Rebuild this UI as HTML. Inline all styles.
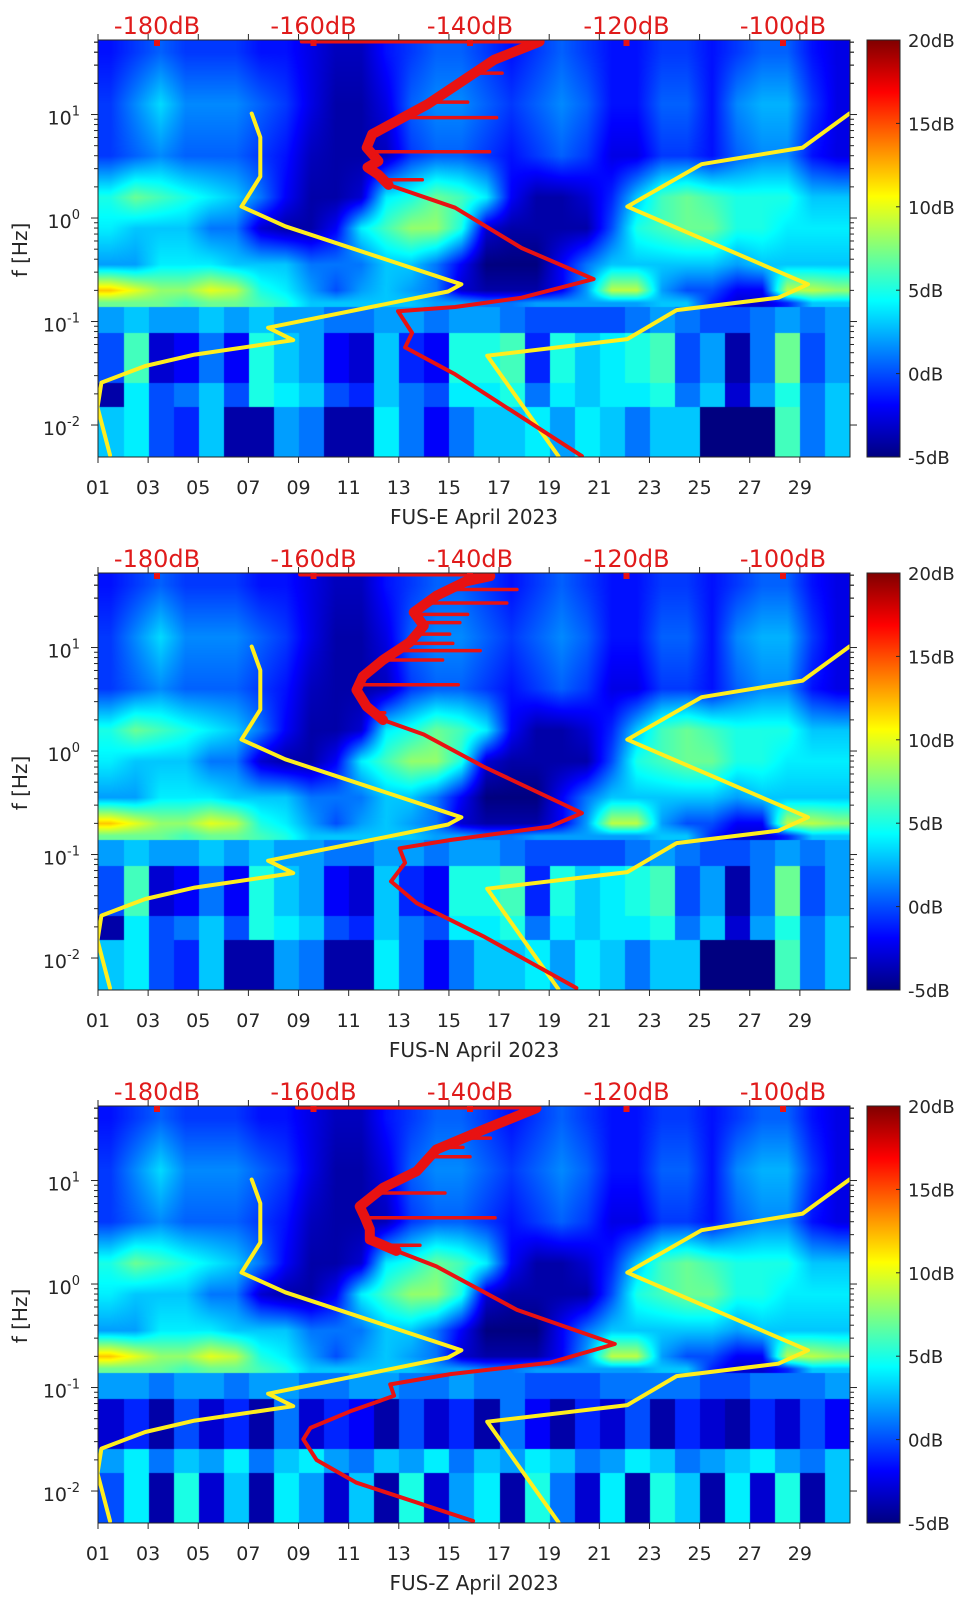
<!DOCTYPE html>
<html><head><meta charset="utf-8">
<style>
body{margin:0;background:#fff;width:962px;height:1599px;position:relative;overflow:hidden;font-family:"DejaVu Sans","Liberation Sans",sans-serif}
canvas{position:absolute}
#ov{position:absolute;left:0;top:0}
</style></head>
<body>
<canvas id="hm0" width="752" height="417" style="left:98px;top:40px"></canvas>
<canvas id="hm1" width="752" height="417" style="left:98px;top:573px"></canvas>
<canvas id="hm2" width="752" height="417" style="left:98px;top:1106px"></canvas>
<svg id="ov" width="962" height="1599" xmlns="http://www.w3.org/2000/svg">
<defs>
<linearGradient id="jetg" x1="0" y1="1" x2="0" y2="0">
<stop offset="0" stop-color="#000080"/><stop offset="0.125" stop-color="#0000ff"/><stop offset="0.375" stop-color="#00ffff"/><stop offset="0.625" stop-color="#ffff00"/><stop offset="0.875" stop-color="#ff0000"/><stop offset="1" stop-color="#800000"/>
</linearGradient>
</defs>
</svg>
<script>
// ---------- data ----------
const stationNames = ["FUS-E","FUS-N","FUS-Z"];
const dayTickValues = [1,3,5,7,9,11,13,15,17,19,21,23,25,27,29];
const dayTickLabels = ["01","03","05","07","09","11","13","15","17","19","21","23","25","27","29"];
const dbTickValues = [-180,-160,-140,-120,-100];
const dbTickLabels = ["-180dB","-160dB","-140dB","-120dB","-100dB"];
const cbarTickValues = [-5,0,5,10,15,20];
const cbarTickLabels = ["-5dB","0dB","5dB","10dB","15dB","20dB"];
const freqDecades = [-2,-1,0,1];
const freqDecadeLabels = ["-2","-1","0","1"];

// spectrogram levels (log10 f) and per-day dB values (April 1..30)
const levelLogF = [1.6,1.1,0.6,0.2,-0.1,-0.45,-0.7,-0.82];
const upL0 = [-1.5,-0.5,0.5,-0.5,-0.5,-0.5,-1.5,-1.5,-2.5,-3.5,-3.5,-1.5,-0.5,0.5,0.5,-0.5,-1.5,-0.5,0.5,-0.5,-1.5,-1.5,-0.5,-0.5,-1.5,-0.5,0.5,0.5,-1.5,-2.5];
const upL1 = [-0.5,1.5,3.5,1.5,1.5,1.5,0.5,-0.5,-2.5,-4,-4,-2.5,0.5,1.5,1.5,0.5,-0.5,0.5,1.5,0.5,-1.5,-1.5,0.5,0.5,-1.5,1.5,2.5,2.5,-0.5,-2.5];
const upL2 = [-0.5,0.5,1.5,0.5,0.5,0.5,-0.5,-1.5,-3.5,-4,-4,-3.5,-0.5,0.5,0.5,-0.5,-1.5,-0.5,0.5,-0.5,-2.5,-2.5,-0.5,-0.5,-1.5,0.5,1.5,1.5,-1.5,-2.5];
const upL3 = [5,7,6,5,4,3,1,-2,-4,-4,-3,4,5,7,6,4,-2,-4,-4,-3,-1,3,6,7,6,5,5,5,3,3];
const upL4 = [4,3,3,3,1,1,-3,-4,-4,-2,4,6,8,8,5,-3,-4,-4,-4,-4,0,5,6,7,7,5,5,4,4,4];
const upL5 = [2,2,4,4,4,3,3,3,1,1,1,3,3,1,-2,-5,-5,-5,-2,1,3,3,3,3,3,2,3,3,3,3];
const upL6 = [12,10,8,8,10,9,5,4,2,0,2,3,2,1,-3,-4,-4,-4,-2,2,9,9,2,0,0,-2,-2,9,9,8];
const upL7 = [7,7,7,6,7,7,6,5,3,3,3,3,3,2,2,1,1,2,2,2,2,2,3,3,-1,-3,-3,-1,3,3];
const bandEdgesLogF = [-0.86,-1.11,-1.59,-1.83,-2.31];
const lowE1 = [2,3,2,2,3,2,3,2,2,1,1,2,2,1,2,2,1,0,0,0,0,1,2,1,0,0,1,2,1,2];
const lowE2 = [0,6,-3,-2,1,-2,5,3,2,-2,-3,3,-1,-2,5,5,6,-1,5,3,4,5,6,0,2,-4,1,7,0,2];
const lowE3 = [-4,4,0,1,3,0,5,4,3,0,-1,3,1,0,4,4,5,1,4,3,4,4,5,1,3,-3,2,5,1,3];
const lowE4 = [3,4,0,-1,3,-4,-4,2,1,-4,-4,4,1,-2,1,3,3,4,2,4,3,1,3,3,-5,-5,-5,6,1,3];
const lowZ1 = [2,2,1,2,2,1,2,2,1,1,2,2,1,1,2,1,1,0,0,0,1,1,1,1,0,0,1,1,1,2];
const lowZ2 = [-3,-1,-4,0,-3,-1,-4,1,-3,-1,-2,-4,0,-3,-1,-4,1,-2,-4,-1,-3,0,-4,-1,-3,-4,-1,-3,0,-2];
const lowZ3 = [2,4,1,3,2,4,1,3,4,2,1,3,2,4,1,3,2,4,3,1,2,4,3,1,2,3,4,2,1,3];
const lowZ4 = [0,4,-4,5,-3,3,-4,4,2,-3,3,-4,5,-3,2,4,-4,5,1,-3,4,-4,5,3,-4,4,-3,5,-4,3];

// noise models (log10 f, dB)
const nlnmLogF = [1.01,0.78,0.40,0.11,-0.08,-0.64,-0.71,-1.06,-1.18,-1.32,-1.43,-1.59,-1.83,-2.29];
const nlnmDB   = [-167.9,-166.8,-166.8,-169.2,-163.6,-141.1,-142.8,-165.8,-162.6,-175.2,-181.5,-187.1,-187.6,-186.0];
const nhnmLogF = [1.01,0.68,0.52,0.11,-0.64,-0.77,-0.89,-1.17,-1.33,-2.30];
const nhnmDB   = [-91.5,-97.5,-110.4,-119.9,-96.8,-100.6,-113.6,-119.9,-137.8,-128.7];

// station median spectra
const redE_LogF = [1.705,1.53,1.10,0.81,0.68,0.55,0.49,0.42,0.32,0.10,-0.29,-0.59,-0.77,-0.86,-0.90,-1.11,-1.25,-1.51,-2.30];
const redE_DB   = [-131.1,-136.9,-145.4,-152.5,-153.2,-151.7,-153.1,-151.7,-150.4,-141.9,-133.4,-124.2,-133.4,-141.9,-149.2,-147.4,-148.3,-141.9,-125.7];
const redE_Top  = [-161.5,-131.3];
const redE_SpikeLogF = [1.40,1.30,1.12,0.97,0.64,0.37];
const redE_SpikeDB   = [-135.9,-141.3,-140.3,-136.6,-137.5,-146.1];
const redN_LogF = [1.69,1.64,1.50,1.34,1.21,1.05,0.88,0.72,0.59,0.43,0.30,0.16,-0.15,-0.60,-0.73,-0.86,-0.94,-1.08,-1.26,-1.47,-1.79,-2.29];
const redN_DB   = [-137.4,-140.5,-144.3,-147.2,-145.9,-147.7,-151.1,-153.7,-154.5,-153.2,-151.1,-145.9,-138.3,-125.7,-129.8,-142.5,-149.0,-148.3,-150.1,-146.8,-138.3,-126.4];
const redN_Top  = [-161.7,-137.4];
const redN_SpikeLogF = [1.56,1.43,1.32,1.24,1.13,1.04,0.97,0.88,0.64,0.37];
const redN_SpikeDB   = [-134.0,-135.3,-140.3,-141.3,-142.6,-142.2,-138.7,-143.5,-141.5,-150.9];
const redZ_LogF = [1.70,1.49,1.30,1.09,0.93,0.75,0.64,0.53,0.43,0.32,0.17,-0.25,-0.58,-0.76,-0.87,-0.97,-1.08,-1.23,-1.39,-1.50,-1.70,-1.92,-2.29];
const redZ_DB   = [-131.5,-138.3,-144.3,-146.8,-151.1,-154.1,-153.4,-152.8,-152.8,-149.4,-144.3,-134.0,-121.5,-129.8,-142.5,-150.2,-149.7,-155.3,-160.4,-161.3,-159.6,-154.5,-139.6];
const redZ_Top  = [-162.1,-131.4];
const redZ_SpikeLogF = [1.41,1.32,1.23,0.88,0.64,0.375];
const redZ_SpikeDB   = [-137.4,-140.9,-140.0,-143.2,-136.8,-146.4];

// ---------- layout / scales ----------
const X0 = 98, X1 = 850, PH = 417, PITCH = 533, TOP = 40;
const LOGF_TOP = 1.72, PX_PER_DEC = 103.5;
const PX_PER_DAY = (X1 - X0) / 30;
function xDay(d){ return X0 + (d - 1) * PX_PER_DAY; }
function yLog(lf, oy){ return TOP + oy + (LOGF_TOP - lf) * PX_PER_DEC; }
function xDB(db){ return 157 + (db + 180) * 7.825; }
function yCbar(v, oy){ return TOP + oy + PH - (v + 5) / 25 * PH; }

function clamp01(v){ return Math.max(0, Math.min(1, v)); }
function jet(v){
  const t = clamp01((v + 5) / 25);
  return [clamp01(1.5 - Math.abs(4*t - 3)) * 255, clamp01(1.5 - Math.abs(4*t - 2)) * 255, clamp01(1.5 - Math.abs(4*t - 1)) * 255];
}

const panels = [
  {up:[upL0,upL1,upL2,upL3,upL4,upL5,upL6,upL7], low:[lowE1,lowE2,lowE3,lowE4], rl:redE_LogF, rd:redE_DB, rt:redE_Top, sl:redE_SpikeLogF, sd:redE_SpikeDB},
  {up:[upL0,upL1,upL2,upL3,upL4,upL5,upL6,upL7], low:[lowE1,lowE2,lowE3,lowE4], rl:redN_LogF, rd:redN_DB, rt:redN_Top, sl:redN_SpikeLogF, sd:redN_SpikeDB},
  {up:[upL0,upL1,upL2,upL3,upL4,upL5,upL6,upL7], low:[lowZ1,lowZ2,lowZ3,lowZ4], rl:redZ_LogF, rd:redZ_DB, rt:redZ_Top, sl:redZ_SpikeLogF, sd:redZ_SpikeDB}
];

function drawHeat(cv, up, low){
  const ctx = cv.getContext('2d');
  const W = cv.width, H = cv.height;
  const img = ctx.createImageData(W, H);
  const nd = up[0].length;
  for (let py = 0; py < H; py++){
    const lf = LOGF_TOP - (py + 0.5) / PX_PER_DEC;
    let row = new Array(nd);
    let smooth = true;
    if (lf > bandEdgesLogF[0]){
      let j = 0;
      if (lf >= levelLogF[0]) { for (let i=0;i<nd;i++) row[i]=up[0][i]; }
      else if (lf <= levelLogF[levelLogF.length-1]) { for (let i=0;i<nd;i++) row[i]=up[up.length-1][i]; }
      else {
        while (!(lf <= levelLogF[j] && lf >= levelLogF[j+1])) j++;
        const w = (levelLogF[j] - lf) / (levelLogF[j] - levelLogF[j+1]);
        for (let i=0;i<nd;i++) row[i] = up[j][i]*(1-w) + up[j+1][i]*w;
      }
    } else {
      smooth = false;
      let k = 0;
      while (k < low.length - 1 && lf < bandEdgesLogF[k+1]) k++;
      row = low[k];
    }
    for (let px = 0; px < W; px++){
      let v;
      if (smooth){
        let dp = (px + 0.5) / PX_PER_DAY - 0.5;
        dp = Math.max(0, Math.min(nd - 1, dp));
        const i0 = Math.floor(dp), i1 = Math.min(nd - 1, i0 + 1), f = dp - i0;
        v = row[i0] * (1 - f) + row[i1] * f;
      } else {
        v = row[Math.min(nd - 1, Math.floor(px / PX_PER_DAY))];
      }
      const c = jet(v), o = (py * W + px) * 4;
      img.data[o] = c[0]; img.data[o+1] = c[1]; img.data[o+2] = c[2]; img.data[o+3] = 255;
    }
  }
  ctx.putImageData(img, 0, 0);
}

const NS = "http://www.w3.org/2000/svg";
const svg = document.getElementById('ov');
function mk(tag, parent, at){
  const e = document.createElementNS(NS, tag);
  for (const k in at) e.setAttribute(k, at[k]);
  parent.appendChild(e);
  return e;
}
function curveX(lfArr, dbArr, lf){
  for (let i = 0; i < lfArr.length - 1; i++){
    const a = lfArr[i], b = lfArr[i+1];
    if ((lf <= a && lf >= b)){ const w = (a - lf) / (a - b); return xDB(dbArr[i]*(1-w) + dbArr[i+1]*w); }
  }
  return xDB(dbArr[0]);
}

panels.forEach((p, k) => {
  const oy = k * PITCH;
  drawHeat(document.getElementById('hm' + k), p.up, p.low);
  const g = mk('g', svg, {});
  
  
  const clipId = 'clip' + k;
  const cp = mk('clipPath', g, {id: clipId});
  mk('rect', cp, {x: X0, y: TOP + oy, width: X1 - X0, height: PH});
  const lines = mk('g', g, {'clip-path': 'url(#' + clipId + ')', fill: 'none', 'stroke-linejoin': 'round', 'stroke-linecap': 'round'});

  const lo = mk('polyline', lines, {points: nlnmLogF.map((lf,i)=>xDB(nlnmDB[i]).toFixed(1)+','+yLog(lf,oy).toFixed(1)).join(' '), stroke: '#ffee1e', 'stroke-width': 4});
  
  
  const hi = mk('polyline', lines, {points: nhnmLogF.map((lf,i)=>xDB(nhnmDB[i]).toFixed(1)+','+yLog(lf,oy).toFixed(1)).join(' '), stroke: '#ffee1e', 'stroke-width': 4});
  
  

  const rt = mk('line', lines, {x1: xDB(p.rt[0]), y1: TOP + oy + 1.5, x2: xDB(p.rt[1]), y2: TOP + oy + 1.5, stroke: '#e81212', 'stroke-width': 4});
  
  
  p.sl.forEach((lf, i) => {
    const sp = mk('line', lines, {x1: curveX(p.rl, p.rd, lf), y1: yLog(lf, oy), x2: xDB(p.sd[i]), y2: yLog(lf, oy), stroke: '#e81212', 'stroke-width': 3.5});
    
    
  });
  const upperPts = [];
  p.rl.forEach((lf, i) => { if (lf > 0.25) upperPts.push(xDB(p.rd[i]).toFixed(1)+','+yLog(lf,oy).toFixed(1)); });
  const thick = mk('polyline', lines, {points: upperPts.join(' '), stroke: '#e81212', 'stroke-width': 10});
  
  
  const red = mk('polyline', lines, {points: p.rl.map((lf,i)=>xDB(p.rd[i]).toFixed(1)+','+yLog(lf,oy).toFixed(1)).join(' '), stroke: '#e81212', 'stroke-width': 4});
  
  

  const box = mk('rect', g, {x: X0, y: TOP + oy, width: X1 - X0, height: PH, fill: 'none', stroke: '#262626', 'stroke-width': 1});
  
  

  dayTickValues.forEach((d, i) => {
    const x = xDay(d);
    mk('line', g, {x1: x, y1: TOP + oy + PH, x2: x, y2: TOP + oy + PH + 6, stroke: '#262626'});
    mk('line', g, {x1: x, y1: TOP + oy, x2: x, y2: TOP + oy - 6, stroke: '#262626'});
    const t = mk('text', g, {x: x, y: 494 + oy, 'text-anchor': 'middle', 'font-size': 19, fill: '#262626'});
    t.textContent = dayTickLabels[i];
    
    
  });
  dbTickValues.forEach((db, i) => {
    const x = xDB(db);
    const m = mk('rect', g, {x: x - 3, y: TOP + oy, width: 6, height: 6, fill: '#e81212'});
    
    
    const t = mk('text', g, {x: x, y: 34 + oy, 'text-anchor': 'middle', 'font-size': 24, fill: '#e01b1b'});
    t.textContent = dbTickLabels[i];
    
    
  });
  freqDecades.forEach((dec, i) => {
    for (let m = 1; m <= 9; m++){
      const lf = dec + Math.log10(m);
      if (lf > LOGF_TOP || lf < LOGF_TOP - PH / PX_PER_DEC) continue;
      const y = yLog(lf, oy), len = m === 1 ? 7 : 4;
      mk('line', g, {x1: X0, y1: y, x2: X0 - len, y2: y, stroke: '#262626'});
      mk('line', g, {x1: X1, y1: y, x2: X1 + len, y2: y, stroke: '#262626'});
    }
    const y = yLog(dec, oy);
    const t = mk('text', g, {x: 80, y: y + 10, 'text-anchor': 'end', 'font-size': 19, fill: '#262626'});
    
    
    const b = mk('tspan', t, {}); b.textContent = '10';
    const s = mk('tspan', t, {dy: -9, 'font-size': 13}); s.textContent = freqDecadeLabels[i];
  });
  for (let m = 2; m <= 5; m++){
    const lf = 1 + Math.log10(m); const y = yLog(lf, oy);
    mk('line', g, {x1: X0, y1: y, x2: X0 - 4, y2: y, stroke: '#262626'});
    mk('line', g, {x1: X1, y1: y, x2: X1 + 4, y2: y, stroke: '#262626'});
  }
  const yl = mk('text', g, {transform: 'translate(27,' + (250 + oy) + ') rotate(-90)', 'text-anchor': 'middle', 'font-size': 20, fill: '#262626'});
  yl.textContent = 'f [Hz]';
  
  
  const xl = mk('text', g, {x: (X0 + X1) / 2, y: 524 + oy, 'text-anchor': 'middle', 'font-size': 20, fill: '#262626'});
  xl.textContent = stationNames[k] + ' April 2023';
  
  

  const cb = mk('rect', g, {x: 867, y: TOP + oy, width: 33, height: PH, fill: 'url(#jetg)', stroke: '#262626', 'stroke-width': 1});
  
  
  cbarTickValues.forEach((v, i) => {
    const y = yCbar(v, oy);
    mk('line', g, {x1: 900, y1: y, x2: 896, y2: y, stroke: '#262626'});
    const t = mk('text', g, {x: 908, y: y + 7, 'font-size': 18, fill: '#262626'});
    t.textContent = cbarTickLabels[i];
    
    
  });
});
</script>
</body></html>
